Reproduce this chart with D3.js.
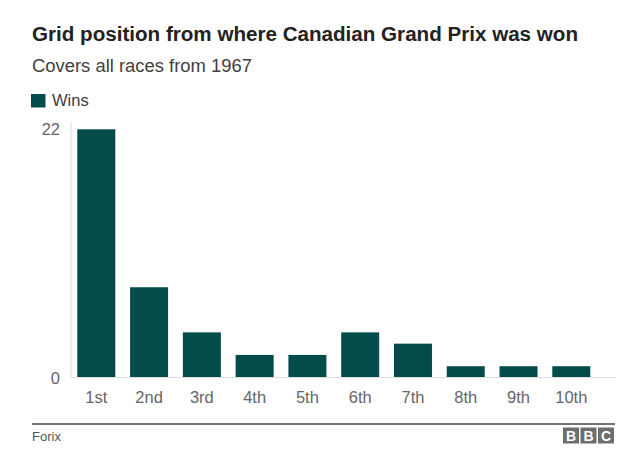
<!DOCTYPE html>
<html><head><meta charset="utf-8">
<script src="https://d3js.org/d3.v7.min.js"></script>
<style>body{margin:0;background:#fff;}svg{display:block;font-family:"Liberation Sans",Arial,Helvetica,sans-serif;}</style>
</head><body>
<script>
const categories = ["1st","2nd","3rd","4th","5th","6th","7th","8th","9th","10th"];
const wins = [22,8,4,2,2,4,3,1,1,1];
const yTicks = [0,22];
const seriesName = "Wins";

const W = 640, H = 474;
const svg = d3.select("body").append("svg").attr("width",W).attr("height",H);

svg.append("text").attr("x",32).attr("y",41).attr("font-size",20).attr("font-weight","bold").attr("fill","#222")
  .attr("textLength",546).attr("lengthAdjust","spacingAndGlyphs")
  .text("Grid position from where Canadian Grand Prix was won");
svg.append("text").attr("x",32).attr("y",72).attr("font-size",17.5).attr("fill","#404040")
  .attr("textLength",220).attr("lengthAdjust","spacingAndGlyphs")
  .text("Covers all races from 1967");

const barColor = "#044b4b";
svg.append("rect").attr("x",31).attr("y",94).attr("width",14.5).attr("height",13.5).attr("fill",barColor);
svg.append("text").attr("x",52).attr("y",106).attr("font-size",16.5).attr("fill","#404040").text(seriesName);

const x = d3.scaleBand().domain(categories).range([77.3,590.3]).paddingInner(0.28).paddingOuter(0);
const y = d3.scaleLinear().domain([0,22]).range([377.5,129.3]);

// y axis line
svg.append("line").attr("x1",71).attr("x2",71).attr("y1",122).attr("y2",377.5).attr("stroke","#ddd").attr("stroke-width",1);

svg.selectAll("rect.bar").data(wins).enter().append("rect").attr("class","bar")
  .attr("x",(d,i)=>x(categories[i])).attr("width",x.bandwidth())
  .attr("y",d=>y(d)).attr("height",d=>y(0)-y(d)).attr("fill",barColor);

// baseline
svg.append("line").attr("x1",71).attr("x2",615).attr("y1",377.5).attr("y2",377.5).attr("stroke","#ddd").attr("stroke-width",1);

svg.selectAll("text.yt").data(yTicks).enter().append("text").attr("class","yt")
  .attr("x",60).attr("y",d=>y(d)+6).attr("text-anchor","end").attr("font-size",16.5).attr("fill","#666").text(d=>d);

svg.selectAll("text.xt").data(categories).enter().append("text").attr("class","xt")
  .attr("x",d=>x(d)+x.bandwidth()/2).attr("y",402.5).attr("text-anchor","middle").attr("font-size",16.5).attr("fill","#666").text(d=>d);

// footer
svg.append("line").attr("x1",32).attr("x2",615).attr("y1",424).attr("y2",424).attr("stroke","#444").attr("stroke-width",1.5);
svg.append("text").attr("x",32).attr("y",441).attr("font-size",13).attr("fill","#555").text("Forix");
const logo = ["B","B","C"];
logo.forEach((l,i)=>{
  const bx = 563 + i*17.5;
  svg.append("rect").attr("x",bx).attr("y",427.5).attr("width",16).attr("height",16).attr("fill","#6e6e6e");
  svg.append("text").attr("x",bx+8).attr("y",441).attr("text-anchor","middle").attr("font-size",14).attr("font-weight","bold").attr("fill","#fff").text(l);
});
</script>
</body></html>
